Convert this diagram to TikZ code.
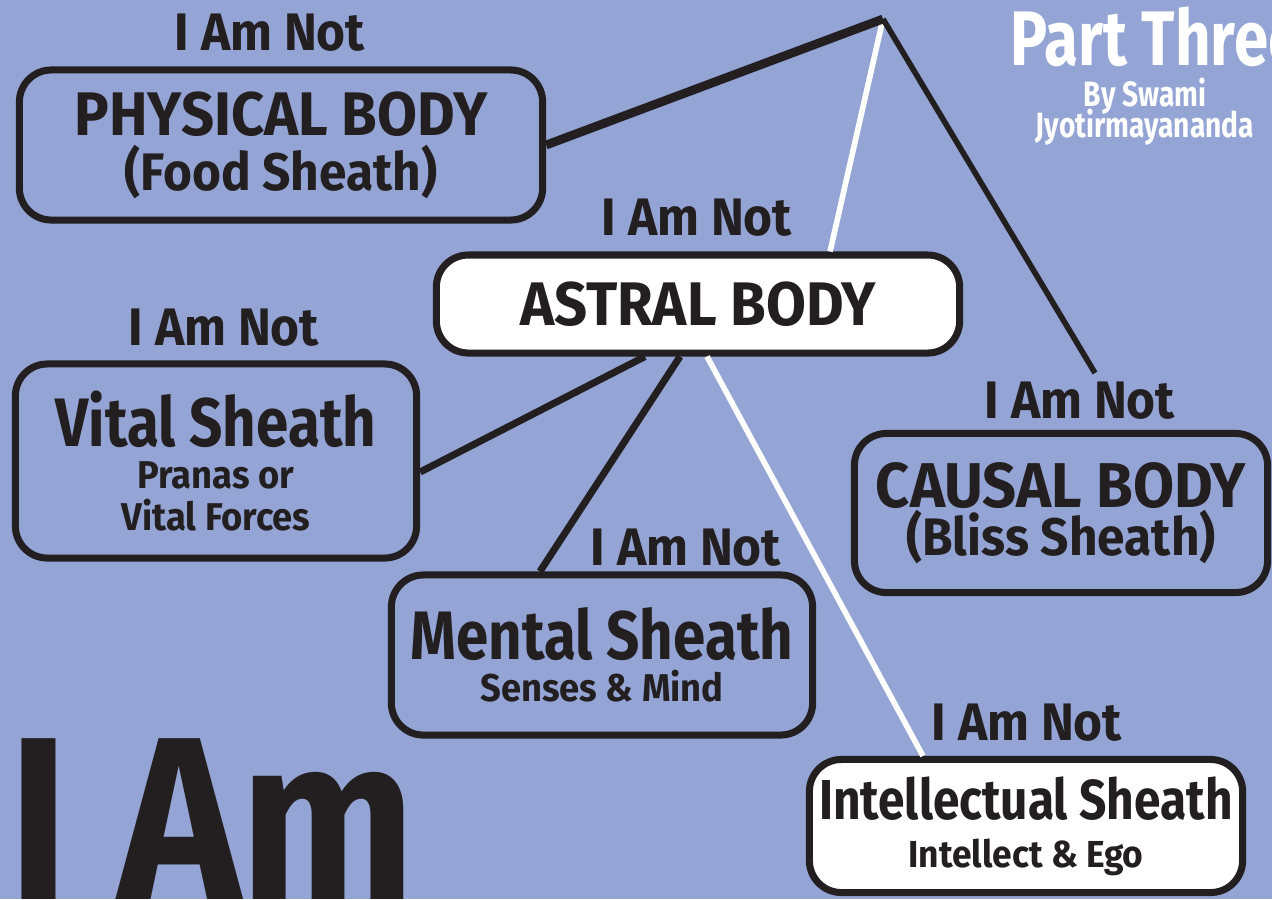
\documentclass[tikz,border=0pt]{standalone}
\usepackage{fontspec}
\setmainfont{Fira Sans}
\newfontfamily\koshafont[FakeStretch=0.94]{Fira Sans}
\newfontfamily\sheathfont[FakeStretch=0.85]{Fira Sans}
\newfontfamily\titlefont[FakeStretch=0.8]{Fira Sans}
\usepackage{xcolor}
\usepackage{tikz}
\usetikzlibrary{positioning,calc}

\definecolor{skyback}{RGB}{148,164,212}
\definecolor{inkdark}{RGB}{35,31,32}

\begin{document}
\begin{tikzpicture}[x=0.01cm,y=-0.01cm,
    sheath/.style={draw=inkdark, line width=2pt, rounded corners=0.32cm, fill=skyback,
        align=center, text=inkdark, inner sep=0pt, font=\koshafont\bfseries},
    notlabel/.style={anchor=base, inner sep=0pt, text=inkdark,
        font=\koshafont\bfseries\fontsize{15}{18}\selectfont},
    tie/.style={inkdark, line width=2pt},
    whitetie/.style={white, line width=1.6pt}]
    \useasboundingbox (0,0) rectangle (1272,899);
    \clip (0,0) rectangle (1272,899);
    \fill[skyback] (0,0) rectangle (1272,899);

    % the five sheaths
    \node[sheath, minimum width=5.23cm, minimum height=1.5cm] (phys) at (281,145)
        {\fontsize{17.5}{17.5}\selectfont PHYSICAL BODY\\[1.5pt] \fontsize{15}{15.6}\selectfont (Food Sheath)};
    \node[sheath, fill=white, minimum width=5.23cm, minimum height=0.98cm] (astral) at (698,304)
        {\fontsize{17.5}{17.5}\selectfont ASTRAL BODY};
    \node[sheath, minimum width=4.01cm, minimum height=1.94cm] (vital) at (216,461)
        {\sheathfont\fontsize{19.5}{20}\selectfont Vital Sheath\\ \fontsize{11}{12}\selectfont Pranas or\\ \fontsize{11}{12}\selectfont Vital Forces};
    \node[sheath, minimum width=4.21cm, minimum height=1.6cm] (mental) at (602,655)
        {\sheathfont\fontsize{19.5}{20}\selectfont Mental Sheath\\ \fontsize{11}{12}\selectfont Senses \& Mind};
    \node[sheath, minimum width=4.13cm, minimum height=1.59cm] (causal) at (1061,513)
        {\fontsize{18}{18}\selectfont CAUSAL BODY\\[-0.5pt] \fontsize{15}{15}\selectfont (Bliss Sheath)};
    \node[sheath, fill=white, minimum width=4.33cm, minimum height=1.33cm] (intel) at (1026,826)
        {\sheathfont\fontsize{16}{17}\selectfont Intellectual Sheath\\[1.7pt] \koshafont\fontsize{10.7}{12}\selectfont Intellect \& Ego};

    \node[notlabel] (notp) at (270,50) {I Am Not};
    \node[notlabel] (nota) at (697,235) {I Am Not};
    \node[notlabel] (notv) at (224,345) {I Am Not};
    \node[notlabel] (notm) at (686,565) {I Am Not};
    \node[notlabel] (notc) at (1080,418) {I Am Not};
    \node[notlabel] (noti) at (1027,740) {I Am Not};

    % connectors
    \coordinate (apex) at (883,19);
    \coordinate (tipc) at (1095,373);
    \draw[whitetie] (apex) -- ([xshift=1.32cm]astral.north);
    \draw[tie, line width=2.5pt] (phys.east) -- (apex);
    \draw[tie, line width=1.6pt] (apex) -- (tipc);
    \draw[tie] ([xshift=-0.53cm]astral.south) -- ([yshift=-0.11cm]vital.east);
    \draw[tie] ([xshift=-0.18cm]astral.south) -- ([xshift=-0.62cm]mental.north);
    \draw[whitetie] ([xshift=0.09cm]astral.south) -- ([xshift=-1.03cm]intel.north);

    \node[anchor=base west, inner sep=0pt, text=inkdark,
        font=\sheathfont\bfseries\fontsize{66}{70}\selectfont] (iam) at (8,899) {\scalebox{1.05}[1]{I Am}};

    \node[anchor=base west, inner sep=0pt, text=white,
        font=\titlefont\bfseries\fontsize{22}{24}\selectfont] (part) at (1010,65) {Part Three};
    \node[anchor=base, inner sep=0pt, text=white,
        font=\titlefont\bfseries\fontsize{10}{12}\selectfont] (by) at (1145,106) {By Swami};
    \node[anchor=base, inner sep=0pt, text=white,
        font=\titlefont\bfseries\fontsize{10}{12}\selectfont] (author) at (1145,137) {Jyotirmayananda};
\end{tikzpicture}
\end{document}
